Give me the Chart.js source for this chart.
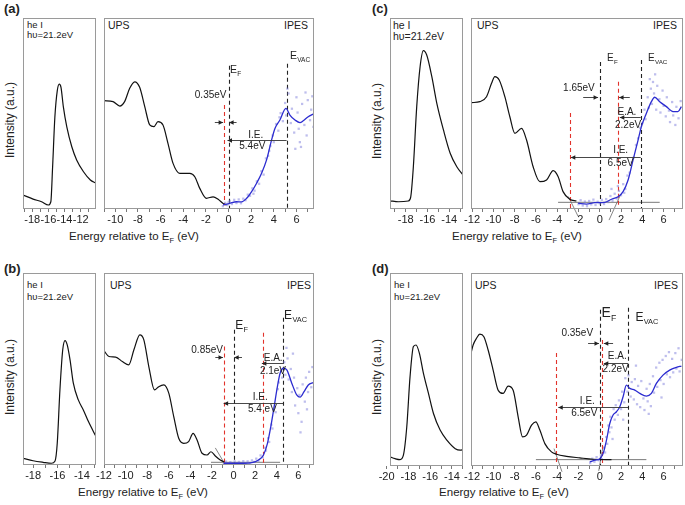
<!DOCTYPE html>
<html><head><meta charset="utf-8">
<script src="https://cdn.jsdelivr.net/npm/chart.js@4.4.1/dist/chart.umd.min.js"></script>
<style>
body{margin:0;background:#fff;}
#wrap{position:relative;width:685px;height:505px;background:#fff;overflow:hidden;font-family:"Liberation Sans",Arial,sans-serif;color:#222;}
.t{position:absolute;white-space:nowrap;line-height:1;}
.lc{transform:translate(0,-50%);}
.rc{transform:translate(-100%,-50%);}
.cc{transform:translate(-50%,-50%);}
.rot{transform:translate(-50%,-50%) rotate(-90deg);font-size:12px;}
.pl{font-weight:bold;font-size:13px;}
.sm{font-size:9.5px;}
.md{font-size:10.5px;}
.xt{font-size:11.5px;}
.xt sub{font-size:7.5px;vertical-align:-3px;}
</style></head>
<body><div id="wrap">
<!-- panel (a) -->
<div class="t pl lc" style="left:4px;top:8px">(a)</div>
<div class="t rot" style="left:10px;top:120px">Intensity (a.u.)</div>
<div class="t sm lc" style="left:27px;top:25px">he I</div>
<div class="t sm lc" style="left:27px;top:35px">hυ=21.2eV</div>
<div class="t md lc" style="left:108px;top:25px">UPS</div>
<div class="t md rc" style="left:308px;top:25px">IPES</div>
<div class="t xt cc" style="left:134px;top:238px">Energy relative to E<sub>F</sub> (eV)</div>
<!-- panel (c) -->
<div class="t pl lc" style="left:372px;top:8px">(c)</div>
<div class="t rot" style="left:377px;top:121px">Intensity (a.u.)</div>
<div class="t md lc" style="left:393px;top:25px">he I</div>
<div class="t md lc" style="left:393px;top:36px">hυ=21.2eV</div>
<div class="t md lc" style="left:477px;top:25px">UPS</div>
<div class="t md rc" style="left:677px;top:25px">IPES</div>
<div class="t xt cc" style="left:517px;top:238px">Energy relative to E<sub>F</sub> (eV)</div>
<!-- panel (b) -->
<div class="t pl lc" style="left:4px;top:268px">(b)</div>
<div class="t rot" style="left:10px;top:377px">Intensity (a.u.)</div>
<div class="t sm lc" style="left:27px;top:285px">he I</div>
<div class="t sm lc" style="left:27px;top:297px">hυ=21.2eV</div>
<div class="t md lc" style="left:110px;top:285px">UPS</div>
<div class="t md rc" style="left:311px;top:285px">IPES</div>
<div class="t xt cc" style="left:143px;top:494px">Energy relative to E<sub>F</sub> (eV)</div>
<!-- panel (d) -->
<div class="t pl lc" style="left:372px;top:268px">(d)</div>
<div class="t rot" style="left:377px;top:377px">Intensity (a.u.)</div>
<div class="t sm lc" style="left:394px;top:285px">he I</div>
<div class="t sm lc" style="left:394px;top:297px">hυ=21.2eV</div>
<div class="t md lc" style="left:475px;top:285px">UPS</div>
<div class="t md rc" style="left:678px;top:285px">IPES</div>
<div class="t xt cc" style="left:504px;top:494px">Energy relative to E<sub>F</sub> (eV)</div>
</div>
<script>
// ---------- DATA (energy eV relative to E_F, intensity a.u. 0-100) ----------
// Panel (a)
const heA = [[-19.15,7.3],[-17.9,5.2],[-16.85,3.8],[-16.0,2.1],[-15.7,3.8],[-15.48,22],[-15.2,48],[-14.9,62],[-14.65,65.4],[-14.44,63.7],[-14.15,53.6],[-13.72,43],[-13.1,32.6],[-12.5,25.7],[-11.65,19.5],[-10.8,15.2],[-10.1,13.5]];
const upsA = [[-11.0,56.7],[-10.2,56.2],[-9.6,53.9],[-9.18,56.2],[-8.73,63.2],[-8.29,66.6],[-7.85,63.7],[-7.4,53.6],[-6.96,44],[-6.6,43.1],[-6.23,45.7],[-5.79,44],[-5.35,34.4],[-4.9,23.9],[-4.31,18.7],[-3.42,18.7],[-2.98,16.9],[-2.54,10.8],[-1.95,5.6],[-1.36,6.4],[-0.92,5.1],[-0.42,2.6],[-0.18,2.1]];
const ipesA = [[-0.48,2.1],[0.12,3.0],[0.7,3.8],[1.15,3.7],[1.6,5.6],[2.04,9.1],[2.48,13.5],[2.92,18.7],[3.36,25.7],[3.8,36.1],[4.1,42.2],[4.54,46.6],[5.07,52.7],[5.42,49.2],[5.87,46.6],[6.31,45.2],[6.6,46.2],[7.04,48.3],[7.49,49.7]];
const rawA = [[-0.5,1.5],[-0.3,3.2],[-0.1,2.0],[0.0,3.5],[0.1,4.2],[0.3,2.6],[0.5,4.8],[0.7,3.1],[0.9,5.0],[1.1,3.0],[1.3,5.4],[1.5,4.6],[1.7,7.5],[1.9,6.9],[2.1,10.8],[2.2,8.0],[2.3,9.6],[2.5,14.5],[2.7,13.2],[2.9,19.8],[3.1,18.0],[3.3,26.5],[3.5,27.8],[3.6,30.5],[3.7,33.0],[3.9,38.5],[4.0,35.0],[4.2,44.5],[4.4,41.0],[4.5,48.0],[4.6,50.2],[4.8,46.0],[5.0,55.5],[5.1,49.0],[5.2,63.0],[5.3,60.5],[5.5,45.0],[5.6,52.5],[5.8,40.0],[5.9,31.5],[6.0,58.5],[6.1,50.5],[6.2,42.0],[6.3,35.0],[6.4,32.5],[6.5,55.0],[6.7,44.0],[6.8,61.0],[6.9,38.5],[7.0,57.0],[7.2,46.5],[7.3,52.0],[7.4,59.0],[7.5,43.0]];
// Panel (b)
const heB = [[-18.83,3.5],[-18.0,2.2],[-17.18,1.4],[-16.49,0.9],[-16.2,2.1],[-16.02,11.3],[-15.8,39.1],[-15.57,60],[-15.38,64.8],[-15.2,62.6],[-14.97,54.8],[-14.7,42.6],[-14.29,33.9],[-13.88,28.7],[-13.46,22.6],[-12.84,14.8]];
const upsB = [[-12.0,59.5],[-11.54,56.5],[-10.92,56.2],[-10.3,53.9],[-9.7,52.2],[-9.23,60],[-8.68,67.8],[-8.31,65.2],[-7.85,51.3],[-7.32,39.1],[-6.93,40.8],[-6.46,41.7],[-6.0,37.4],[-5.54,25.2],[-5.08,13.9],[-4.62,11.3],[-4.16,12.2],[-3.75,16.5],[-3.38,13],[-2.92,6.1],[-2.46,5.2],[-2.09,6.9],[-1.69,4.7],[-1.23,2.6],[-0.86,1.6]];
const ipesB = [[-0.92,0.9],[0,0.9],[0.92,0.9],[1.7,1.2],[2.31,2.6],[2.77,5.2],[3.14,11.3],[3.45,20],[3.76,30.4],[4.06,40.8],[4.31,47.8],[4.62,50.4],[4.93,49.6],[5.39,42.6],[5.85,36.5],[6.16,35.3],[6.53,38.2],[6.92,41.7],[7.39,42.9]];
const rawB = [[-0.9,0.5],[-0.7,1.8],[-0.5,0.6],[-0.3,1.5],[-0.1,0.4],[0.1,1.9],[0.3,0.7],[0.5,1.6],[0.7,0.5],[0.9,2.0],[1.1,0.8],[1.3,1.9],[1.5,1.0],[1.7,2.4],[1.9,1.6],[2.1,3.3],[2.3,2.0],[2.5,5.0],[2.7,4.0],[2.9,9.0],[3.0,7.5],[3.2,14.0],[3.3,12.0],[3.5,21.0],[3.6,19.0],[3.8,30.0],[3.9,27.5],[4.1,39.5],[4.2,43.0],[4.4,49.0],[4.5,45.5],[4.7,53.5],[4.8,47.0],[4.9,61.0],[5.0,55.5],[5.1,44.5],[5.3,50.0],[5.4,38.0],[5.5,58.0],[5.6,45.5],[5.7,31.0],[5.9,40.0],[6.0,27.0],[6.1,36.5],[6.2,17.0],[6.3,22.5],[6.4,42.0],[6.6,33.0],[6.7,45.5],[6.8,29.0],[6.9,38.0],[7.0,48.5],[7.2,40.5],[7.3,51.0],[7.5,44.0]];
// Panel (c)
const heC = [[-19.45,4.3],[-18.68,3.8],[-17.76,4.2],[-17.54,6.4],[-17.3,22.1],[-16.99,53.6],[-16.68,74.5],[-16.38,82.9],[-16.07,80.6],[-15.6,69.3],[-15.14,55.3],[-14.53,41.4],[-13.91,29.2],[-13.3,22.1],[-12.73,17.8]];
const upsC = [[-12.05,55.7],[-11.27,56.2],[-10.64,58.8],[-10.17,65.8],[-9.86,69.3],[-9.45,67.5],[-8.92,58.8],[-8.45,48.3],[-7.98,39.6],[-7.35,42.2],[-6.88,36.1],[-6.26,22.1],[-5.63,14.3],[-5.0,15.2],[-4.38,20.1],[-3.91,16.9],[-3.45,9.1],[-2.82,5.1],[-2.19,4.2]];
const ipesC = [[-2.03,3.0],[-1.25,2.6],[-0.47,3.3],[0.47,3.5],[1.1,5.1],[1.72,6.4],[2.19,9.1],[2.66,15.2],[3.13,25.7],[3.6,36.1],[3.91,43.1],[4.38,50.1],[4.85,56.2],[5.16,58.5],[5.63,56.2],[6.26,53.6],[6.88,51],[7.35,51],[7.67,53.6]];
const rawC = [[-2.0,2.5],[-1.8,4.6],[-1.6,1.8],[-1.4,3.9],[-1.2,1.5],[-1.0,4.2],[-0.8,2.4],[-0.6,4.9],[-0.4,2.1],[-0.2,3.8],[0.0,2.9],[0.2,4.8],[0.4,2.6],[0.6,5.2],[0.8,3.6],[1.0,6.8],[1.1,10.5],[1.2,4.3],[1.4,8.0],[1.6,5.5],[1.7,12.0],[1.8,9.5],[2.0,7.2],[2.2,13.0],[2.3,8.5],[2.4,10.5],[2.6,17.5],[2.8,19.0],[3.0,24.5],[3.2,27.0],[3.4,33.5],[3.6,37.0],[3.8,42.5],[4.0,45.0],[4.2,52.0],[4.3,47.0],[4.5,58.5],[4.6,53.0],[4.7,68.0],[4.8,63.0],[4.9,55.0],[5.0,66.5],[5.1,60.5],[5.2,70.5],[5.3,52.0],[5.4,64.5],[5.6,57.5],[5.7,50.5],[5.9,62.0],[6.0,54.0],[6.2,48.5],[6.3,58.5],[6.5,51.5],[6.6,45.5],[6.8,56.0],[6.9,49.0],[7.1,44.0],[7.2,53.5],[7.4,47.5],[7.6,56.5]];
// Panel (d)
const heD = [[-19.69,4.7],[-19.23,3.8],[-18.77,3.3],[-18.46,5.6],[-18.15,20.3],[-17.85,46.3],[-17.54,61.9],[-17.3,62.7],[-16.99,58.4],[-16.62,48],[-16.16,37.6],[-15.7,27.2],[-15.09,18.6],[-14.47,13.4],[-13.7,9.0],[-13.24,8.2],[-12.99,8.5]];
const upsD = [[-12.1,58.4],[-11.9,62.7],[-11.58,66.2],[-11.27,68.3],[-10.89,67],[-10.49,60.1],[-10.02,49.7],[-9.55,39.3],[-9.08,37.6],[-8.61,41.4],[-8.14,39.3],[-7.67,25.5],[-7.26,15.1],[-6.88,16],[-6.41,21.2],[-6.01,22.9],[-5.63,18.6],[-5.16,11.6],[-4.54,7.3],[-4.07,6.1],[-3.13,5.0],[-1.88,4.2],[-0.63,3.5],[0.63,3.3],[1.1,3.3]];
const ipesD = [[-0.94,2.1],[-0.47,3.0],[0,3.8],[0.31,6.4],[0.63,13.4],[0.94,22],[1.25,26.4],[1.57,28.1],[1.88,30.7],[2.19,35.9],[2.5,41.9],[2.82,40.2],[3.29,39.3],[3.76,37.6],[4.38,36.2],[4.85,37.6],[5.32,42.8],[5.94,47.1],[6.57,49.7],[7.2,51.1],[7.67,51.8]];
const rawD = [[-0.9,1.5],[-0.7,3.8],[-0.5,2.2],[-0.3,4.6],[-0.1,3.0],[0.1,5.5],[0.2,3.5],[0.4,9.5],[0.5,7.0],[0.6,15.0],[0.7,11.5],[0.8,21.0],[0.9,17.5],[1.0,25.5],[1.1,20.0],[1.2,14.0],[1.3,29.5],[1.4,24.0],[1.5,31.5],[1.7,26.5],[1.8,34.0],[2.0,29.5],[2.1,38.5],[2.2,24.0],[2.3,33.0],[2.4,45.5],[2.6,38.5],[2.7,47.0],[2.9,36.0],[3.0,43.5],[3.2,34.5],[3.3,45.0],[3.4,52.0],[3.5,32.0],[3.6,41.5],[3.8,30.5],[3.9,44.0],[4.1,35.0],[4.2,29.0],[4.4,40.0],[4.5,33.5],[4.6,27.0],[4.7,42.5],[4.8,31.0],[5.0,46.5],[5.1,38.0],[5.3,51.0],[5.4,41.0],[5.6,53.5],[5.7,44.5],[5.8,35.5],[5.9,55.0],[6.0,42.5],[6.2,57.0],[6.3,47.5],[6.5,59.0],[6.6,46.0],[6.8,55.5],[6.9,48.5],[7.1,58.5],[7.2,50.5],[7.4,61.0],[7.5,49.0],[7.7,55.0]];

// tick labels
const ticksAL = [-18,-16,-14,-12];
const ticksAR = [-10,-8,-6,-4,-2,0,2,4,6];
const ticksBL = [-18,-16,-14];
const ticksBR = [-12,-10,-8,-6,-4,-2,0,2,4,6];
const ticksCL = [-18,-16,-14];
const ticksCR = [-12,-10,-8,-6,-4,-2,0,2,4,6];
const ticksDL = [-20,-18,-16,-14];
const ticksDR = [-12,-10,-8,-6,-4,-2,0,2,4,6];

// energy-level markers (eV): E_F, E_VAC and band edges
const levelsA = {ef:0, vac:5.13, red:[-0.39]};
const levelsB = {ef:0, vac:4.62, red:[-0.92,2.71]};
const levelsC = {ef:0, vac:3.85, red:[1.72,-2.82]};
const levelsD = {ef:0.05, vac:2.66, red:[0.25,-4.13]};

// ---------- DRAWING ----------
const FONT = '"Liberation Sans", Arial, sans-serif';
const PADX = 15, PADT = 5, AXH = 22;
const pts = a => a.map(p => ({x:p[0], y:p[1]}));

function drawText(ctx, t, x, y) {
  const [s, , , align, size, sub] = t;
  ctx.fillStyle = '#222';
  ctx.textBaseline = 'middle';
  ctx.textAlign = align;
  ctx.font = size + 'px ' + FONT;
  ctx.fillText(s, x, y);
  if (sub) {
    const w = ctx.measureText(s).width;
    ctx.textAlign = 'left';
    ctx.font = (size * 0.62).toFixed(1) + 'px ' + FONT;
    ctx.fillText(sub, x + w + 0.3, y + size * 0.36);
  }
}
function arrow(ctx, x0, x1, y) {
  ctx.strokeStyle = '#333'; ctx.fillStyle = '#222'; ctx.lineWidth = 0.9; ctx.setLineDash([]);
  ctx.beginPath(); ctx.moveTo(x0, y); ctx.lineTo(x1, y); ctx.stroke();
  const d = x1 > x0 ? 1 : -1;
  ctx.beginPath(); ctx.moveTo(x1, y); ctx.lineTo(x1 - d * 4.5, y - 2.2); ctx.lineTo(x1 - d * 4.5, y + 2.2); ctx.closePath(); ctx.fill();
}

function makeChart(box, range, labels, datasets, ann) {
  const [L, T, R, B] = box;
  const c = document.createElement('canvas');
  const w = R - L + 2 * PADX, h = B - T + PADT + AXH;
  c.width = w; c.height = h;
  c.style.cssText = `position:absolute;left:${L - PADX}px;top:${T - PADT}px;width:${w}px;height:${h}px`;
  document.getElementById('wrap').appendChild(c);
  ann = ann || {};
  const plug = {
    id: 'ann',
    beforeDatasetsDraw(chart) {
      const ctx = chart.ctx, X = v => chart.scales.x.getPixelForValue(v), Y = v => chart.scales.y.getPixelForValue(v);
      ctx.save();
      (ann.hl || []).forEach(hh => { ctx.strokeStyle = '#7a7a7a'; ctx.lineWidth = 1; ctx.setLineDash([]);
        ctx.beginPath(); ctx.moveTo(X(hh[0]), Y(hh[2])); ctx.lineTo(X(hh[1]), Y(hh[2])); ctx.stroke(); });
      (ann.tg || []).forEach(t => { ctx.strokeStyle = '#666'; ctx.lineWidth = 0.8; ctx.setLineDash([]);
        ctx.beginPath(); ctx.moveTo(X(t[0]), Y(t[1])); ctx.lineTo(X(t[2]), Y(t[3])); ctx.stroke(); });
      (ann.vl || []).forEach(v => { ctx.strokeStyle = v[3] === 'r' ? '#e2332b' : '#222'; ctx.lineWidth = 1.1; ctx.setLineDash([4, 3]);
        const x = Math.round(X(v[0])) + 0.5;
        ctx.beginPath(); ctx.moveTo(x, Y(v[1])); ctx.lineTo(x, Y(v[2])); ctx.stroke(); });
      ctx.restore();
    },
    afterDatasetsDraw(chart) {
      const ctx = chart.ctx, X = v => chart.scales.x.getPixelForValue(v), Y = v => chart.scales.y.getPixelForValue(v);
      ctx.save();
      (ann.ar || []).forEach(a => arrow(ctx, X(a[0]), X(a[1]), Math.round(Y(a[2])) + 0.5));
      (ann.tx || []).forEach(t => drawText(ctx, t, X(t[1]), Y(t[2])));
      const a = chart.chartArea;
      ctx.strokeStyle = '#9a9a9a'; ctx.lineWidth = 1; ctx.setLineDash([]);
      ctx.strokeRect(Math.round(a.left) + 0.5, Math.round(a.top) + 0.5, Math.round(a.right - a.left) - 1, Math.round(a.bottom - a.top) - 1);
      ctx.restore();
    }
  };
  new Chart(c, {
    type: 'scatter',
    data: {datasets},
    options: {
      responsive: false, animation: false, devicePixelRatio: 1, events: [],
      layout: {padding: {left: PADX, right: PADX, top: PADT, bottom: 0}},
      plugins: {legend: {display: false}, tooltip: {enabled: false}},
      scales: {
        x: {
          type: 'linear', position: 'bottom', min: range[0], max: range[1], bounds: 'data',
          afterBuildTicks: s => {
            const t = [];
            for (let v = Math.ceil(range[0]); v <= Math.floor(range[1]); v++) t.push({value: v});
            labels.forEach(v => { if (v < range[0] || v > range[1]) t.push({value: v}); });
            s.ticks = t;
          },
          afterFit: s => { s.height = AXH; s.paddingLeft = 0; s.paddingRight = 0; },
          ticks: {autoSkip: false, maxRotation: 0, minRotation: 0, padding: 1, color: '#222',
            font: {family: FONT, size: 11}, callback: v => labels.includes(v) ? String(v) : ''},
          grid: {drawOnChartArea: false, drawTicks: true, tickLength: 3, color: '#555', lineWidth: 0.8},
          border: {display: false}
        },
        y: {type: 'linear', display: false, min: 0, max: 100}
      }
    },
    plugins: [plug]
  });
}

function lineDs(d, color, w) {
  return {data: pts(d), showLine: true, borderColor: color, borderWidth: w, pointRadius: 0,
    cubicInterpolationMode: 'monotone', fill: false};
}
function rawDs(d) {
  return {data: pts(d), showLine: false, pointStyle: 'rect', pointRadius: 1.6,
    backgroundColor: 'rgba(125,125,220,0.5)', borderWidth: 0};
}
const BLK = '#111', BLU = '#2c2cd0';
function vlines(lv, top) {
  const r = [[lv.ef, top.ef, 0, 'k'], [lv.vac, top.vac, 0, 'k']];
  lv.red.forEach((x, i) => r.push([x, top.red[i], top.redB ? top.redB[i] : 0.5, 'r']));
  return r;
}

// ---- Panel (a)
makeChart([23,18,96,209], [-19.15,-10.1], ticksAL, [lineDs(heA, BLK, 1.2)]);
makeChart([104,18,314,209], [-11.0,7.55], ticksAR,
  [lineDs(ipesA, BLU, 1.3), lineDs(upsA, BLK, 1.2), rawDs(rawA)],
  {vl: vlines(levelsA, {ef:75, vac:76, red:[54.5], redB:[2]}),
   ar: [[-1.21,-0.48,45.4],[0.71,0.05,45.4],[5.13,-0.09,36.1]],
   tx: [['E',0.12,72.8,'left',10.5,'F'],['E',5.42,80,'left',10.5,'VAC'],['0.35eV',-0.18,59.7,'right',10],
        ['I.E.',2.4,38.7,'center',10],['5.4eV',2.1,32.6,'center',10]]});
// ---- Panel (c)
makeChart([390,18,463,209], [-19.45,-12.73], ticksCL, [lineDs(heC, BLK, 1.2)]);
makeChart([471,18,683,209], [-12.1,7.82], ticksCR,
  [lineDs(ipesC, BLU, 1.3), lineDs(upsC, BLK, 1.2), rawDs(rawC)],
  {vl: vlines(levelsC, {ef:77, vac:78, red:[66.6,50.3], redB:[2,0.5]}),
   hl: [[-3.92,5.63,3.5]],
   tg: [[-2.95,6.5,-2.04,-3.8],[1.95,7.5,0.87,-5.8]],
   ar: [[-1.56,-0.16,58.5],[2.82,1.81,58.5],[3.85,1.88,48],[3.85,-2.72,27.4]],
   tx: [['E',0.69,78.9,'left',10,'F'],['E',4.54,78.7,'left',10,'VAC'],['1.65eV',-0.47,63.2,'right',10],
        ['E.A.',2.55,50.6,'center',10],['2.2eV',2.66,44,'center',10],['I.E.',1.96,30.6,'center',10],['6.5eV',1.96,24.2,'center',10]]});
// ---- Panel (b)
makeChart([23,273,96,465], [-18.83,-12.84], ticksBL, [lineDs(heB, BLK, 1.2)]);
makeChart([104,273,314,465], [-12.0,7.45], ticksBR,
  [lineDs(ipesB, BLU, 1.3), lineDs(upsB, BLK, 1.2), rawDs(rawB)],
  {vl: vlines(levelsB, {ef:70.4, vac:76.7, red:[61.7,68.9], redB:[1,0.5]}),
   hl: [[-2.09,4.31,1.4]],
   tg: [[-1.69,8.9,-0.86,1]],
   ar: [[-1.69,-0.98,56.2],[0.78,0.06,56.2],[4.62,2.62,53.1],[4.62,-0.92,32.2]],
   tx: [['E',0.16,72.5,'left',12,'F'],['E',4.68,78,'left',12,'VAC'],['0.85eV',-0.98,59.8,'right',10],
        ['E.A.',3.67,55.4,'center',10],['2.1eV',3.65,48.7,'center',10],['I.E.',2.47,35.1,'center',10],['5.4 eV',2.67,28.8,'center',10]]});
// ---- Panel (d)
makeChart([390,273,463,466], [-19.69,-12.99], ticksDL, [lineDs(heD, BLK, 1.2)]);
makeChart([471,273,683,466], [-12.1,7.82], ticksDR,
  [lineDs(ipesD, BLU, 1.3), lineDs(upsD, BLK, 1.2), rawDs(rawD)],
  {vl: vlines(levelsD, {ef:80.9, vac:82, red:[65.3,58.6], redB:[0.5,0.5]}),
   hl: [[-6.0,4.38,3.3]],
   tg: [[-4.3,9,-3.55,-3],[0.3,10,-0.1,-2.5]],
   ar: [[-1.1,-0.07,63.6],[1.25,0.38,63.6],[2.66,0.38,53.5],[2.66,-3.9,30.4]],
   tx: [['E',0.16,79.2,'left',14,'F'],['E',3.35,77,'left',12,'VAC'],['0.35eV',-0.63,68.6,'right',10],
        ['E.A.',1.64,56.8,'center',10],['2.2eV',1.49,49.9,'center',10],['I.E.',-1.17,33.6,'center',10],['6.5eV',-1.46,27.4,'center',10]]});
</script>
</body></html>
